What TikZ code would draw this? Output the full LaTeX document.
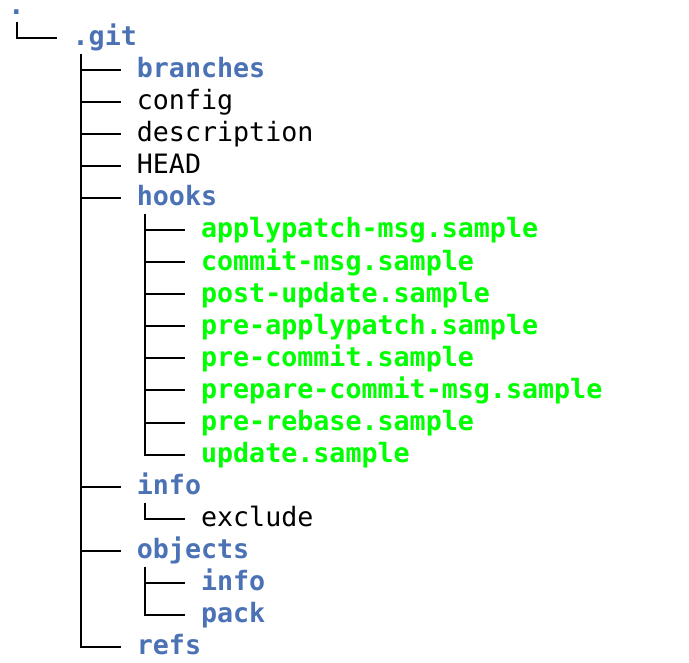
\documentclass[tikz,border=0pt]{standalone}
\usepackage{fontspec}
\setmonofont{DejaVu Sans Mono}
\definecolor{dirblue}{HTML}{4A72B4}
\definecolor{exegreen}{HTML}{00FF00}
\newcommand\tpos[2]{({(8.5+16.05*#1)*1pt},{-(13.7+32.04*#2)*1pt})}
\newcommand\treetop[1]{([xshift=8.025pt,yshift=-8.32pt]#1.base west)}
\newcommand\treeend[1]{([xshift=-16.05pt,yshift=7.7pt]#1.base west)}
\tikzset{
  entry/.style={anchor=base west, inner sep=0pt, outer sep=0pt},
  dir/.style={entry, text=dirblue, font=\fontsize{26.66}{32}\selectfont\ttfamily\bfseries},
  exe/.style={entry, text=exegreen, font=\fontsize{26.66}{32}\selectfont\ttfamily\bfseries},
  plain/.style={entry, text=black, font=\fontsize{26.66}{32}\selectfont\ttfamily},
  tree/.style={line width=2pt, draw=black},
}
\begin{document}
\begin{tikzpicture}
\fill[white] (0,0) rectangle (689pt,-663pt);
\useasboundingbox (0,0) rectangle (689pt,-663pt);
% nodes
\node[dir, text height=6pt] (root) at (8.5pt,-14.8pt) {.};
\node[dir]   (git)     at \tpos{4}{1}  {.git};
\node[dir]   (branches) at \tpos{8}{2} {branches};
\node[plain] (config)  at \tpos{8}{3}  {config};
\node[plain] (descr)   at \tpos{8}{4}  {description};
\node[plain] (head)    at \tpos{8}{5}  {HEAD};
\node[dir]   (hooks)   at \tpos{8}{6}  {hooks};
\node[exe]   (h1)      at \tpos{12}{7}  {applypatch-msg.sample};
\node[exe]   (h2)      at \tpos{12}{8}  {commit-msg.sample};
\node[exe]   (h3)      at \tpos{12}{9}  {post-update.sample};
\node[exe]   (h4)      at \tpos{12}{10} {pre-applypatch.sample};
\node[exe]   (h5)      at \tpos{12}{11} {pre-commit.sample};
\node[exe]   (h6)      at \tpos{12}{12} {prepare-commit-msg.sample};
\node[exe]   (h7)      at \tpos{12}{13} {pre-rebase.sample};
\node[exe]   (h8)      at \tpos{12}{14} {update.sample};
\node[dir]   (info)    at \tpos{8}{15} {info};
\node[plain] (exclude) at \tpos{12}{16} {exclude};
\node[dir]   (objects) at \tpos{8}{17} {objects};
\node[dir]   (oinfo)   at \tpos{12}{18} {info};
\node[dir]   (opack)   at \tpos{12}{19} {pack};
\node[dir]   (refs)    at \tpos{8}{20} {refs};
% connectors
\draw[tree] ([xshift=8.025pt,yshift=-7.2pt]root.base west) |- \treeend{git};
\foreach \c in {branches,config,descr,head,hooks,info,objects,refs}
  \draw[tree] \treetop{git} |- \treeend{\c};
\foreach \c in {h1,h2,h3,h4,h5,h6,h7,h8}
  \draw[tree] \treetop{hooks} |- \treeend{\c};
\draw[tree] \treetop{info} |- \treeend{exclude};
\foreach \c in {oinfo,opack}
  \draw[tree] \treetop{objects} |- \treeend{\c};
\end{tikzpicture}
\end{document}
